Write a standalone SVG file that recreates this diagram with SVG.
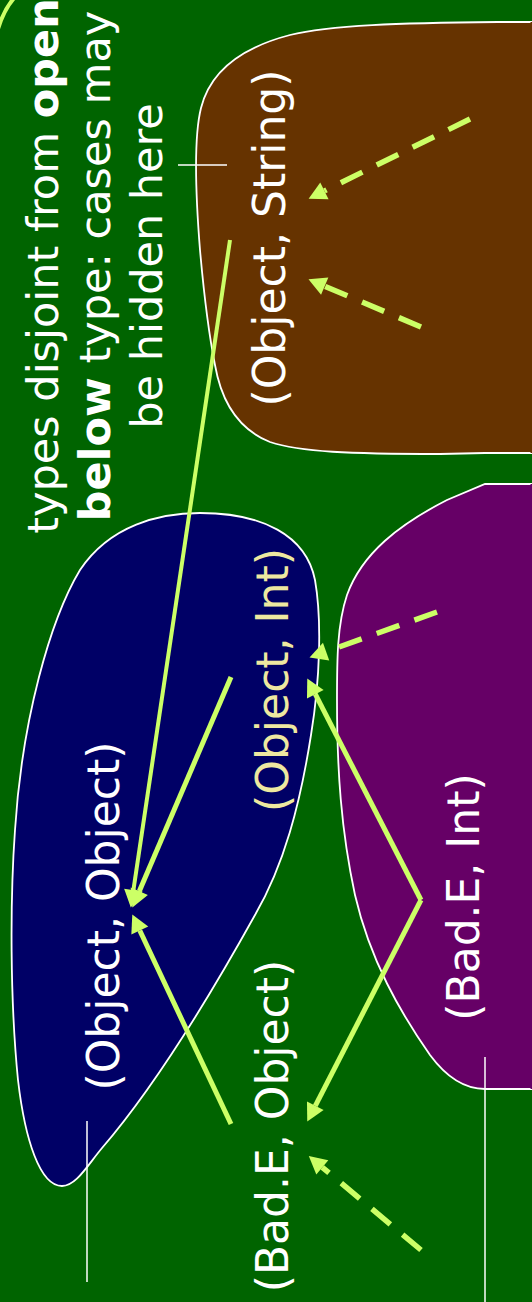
<svg xmlns="http://www.w3.org/2000/svg" width="532" height="1302" viewBox="0 0 532 1302">
  <style>
    .region { stroke: #ffffff; stroke-width: 1.8; }
    .edge-dash { fill: none; stroke: #ffffff; stroke-width: 1.8; stroke-dasharray: 8 6; }
    .tick { fill: none; stroke: #ffffff; stroke-width: 1.5; }
    .label { font-family: "DejaVu Sans", Verdana, sans-serif; font-size: 44px; fill: #ffffff; text-anchor: middle; }
    .note { font-family: "DejaVu Sans", Verdana, sans-serif; font-size: 43px; fill: #ffffff; text-anchor: middle; }
    .solid { fill: none; stroke: #ccff66; stroke-width: 5; marker-end: url(#head); }
    .dashed { fill: none; stroke: #ccff66; stroke-width: 5.5; stroke-dasharray: 24 16; marker-end: url(#head); }
  </style>
  <defs>
    <marker id="head" markerUnits="userSpaceOnUse" markerWidth="22" markerHeight="22" refX="0" refY="0" viewBox="-1 -10 19 20" orient="auto">
      <path d="M0,-8.5 L16,0 L0,8.5 Z" fill="#ccff66"/>
    </marker>
  </defs>

  <!-- background -->
  <rect x="0" y="0" width="532" height="1302" fill="#006400"/>

  <!-- corner arc -->
  <path d="M -2,29 Q 4,9 15,-3" fill="none" stroke="#ccff66" stroke-width="4"/>

  <!-- (Object, String) region -->
  <g id="node-object-string">
    <path class="region" fill="#663300" d="M 532,22 L 498,22 C 400,23 330,25 290,35 C 240,48 210,72 201,108 C 193,140 196,200 200,250 C 204,295 209,335 215,365 C 222,405 240,430 270,442 C 300,452 350,454 440,454 L 485,453 L 532,453 Z"/>
    <path class="edge-dash" d="M 498,22 L 532,22 M 485,453 L 532,453"/>
    <path d="M 532,22 L 532,453" stroke="#663300" stroke-width="3"/>
    <text class="label" x="285" y="238" transform="rotate(-90 285 238)">(Object, String)</text>
  </g>

  <!-- (Bad.E, Int) region -->
  <g id="node-bad-int">
    <path class="region" fill="#660066" d="M 532,484 L 485,484 L 447,500 C 400,524 362,553 347,595 C 337,625 337,660 337,700 C 337,770 341,830 355,895 C 370,960 400,1012 430,1055 C 447,1078 465,1089 485,1089 L 532,1089 Z"/>
    <path class="edge-dash" d="M 485,484 L 532,484 M 485,1089 L 532,1089"/>
    <path d="M 532,484 L 532,1089" stroke="#660066" stroke-width="3"/>
    <text class="label" x="479" y="897" transform="rotate(-90 479 897)">(Bad.E, Int)</text>
  </g>

  <!-- (Object, Object) region -->
  <g id="node-object-object">
    <path class="region" fill="#000066" d="M 200,513 C 262,513 306,535 315,580 C 322,620 320,680 311,735 C 300,805 284,865 255,915 C 205,1005 152,1090 102,1148 C 87,1166 76,1186 62,1186 C 40,1186 25,1140 18,1080 C 10,1000 10,900 15,830 C 22,720 50,620 80,570 C 110,525 160,513 200,513 Z"/>
    <text class="label" x="119" y="916" transform="rotate(-90 119 916)">(Object, Object)</text>
  </g>

  <!-- (Object, Int) -->
  <g id="node-object-int">
    <text class="label" x="288" y="680" transform="rotate(-90 288 680)" style="fill:#eee8a0">(Object, Int)</text>
  </g>

  <!-- (Bad.E, Object) -->
  <g id="node-bad-object">
    <text class="label" x="288" y="1126" transform="rotate(-90 288 1126)">(Bad.E, Object)</text>
  </g>

  <!-- caption -->
  <g id="caption">
    <text class="note" transform="rotate(-90 58 266)" x="58" y="266">types disjoint from <tspan font-weight="bold">open</tspan></text>
    <text class="note" transform="rotate(-90 110 266)" x="110" y="266"><tspan font-weight="bold">below</tspan> type: cases may</text>
    <text class="note" transform="rotate(-90 162 266)" x="162" y="266">be hidden here</text>
  </g>

  <!-- separator ticks -->
  <g id="ticks">
    <line class="tick" x1="178" y1="165" x2="227" y2="165"/>
    <line class="tick" x1="87" y1="1121" x2="87" y2="1282"/>
    <line class="tick" x1="485" y1="1057" x2="485" y2="1302"/>
  </g>

  <!-- connectors -->
  <g id="connectors">
    <line class="solid" style="stroke-width:4" x1="230" y1="240" x2="133.4" y2="890.2"/>
    <line class="solid" x1="231" y1="677" x2="139.3" y2="891.3"/>
    <line class="solid" x1="231" y1="1124" x2="139.8" y2="930.5"/>
    <line class="solid" x1="421" y1="900" x2="315.3" y2="694.2"/>
    <line class="solid" x1="421" y1="900" x2="315.3" y2="1105.8"/>
    <line class="dashed" x1="470" y1="119" x2="324.4" y2="190.9"/>
    <line class="dashed" x1="421" y1="327" x2="324.7" y2="286.2"/>
    <line class="dashed" x1="437" y1="612" x2="326.1" y2="651.6"/>
    <line class="dashed" x1="421" y1="1250" x2="322.3" y2="1167.3"/>
  </g>
</svg>
